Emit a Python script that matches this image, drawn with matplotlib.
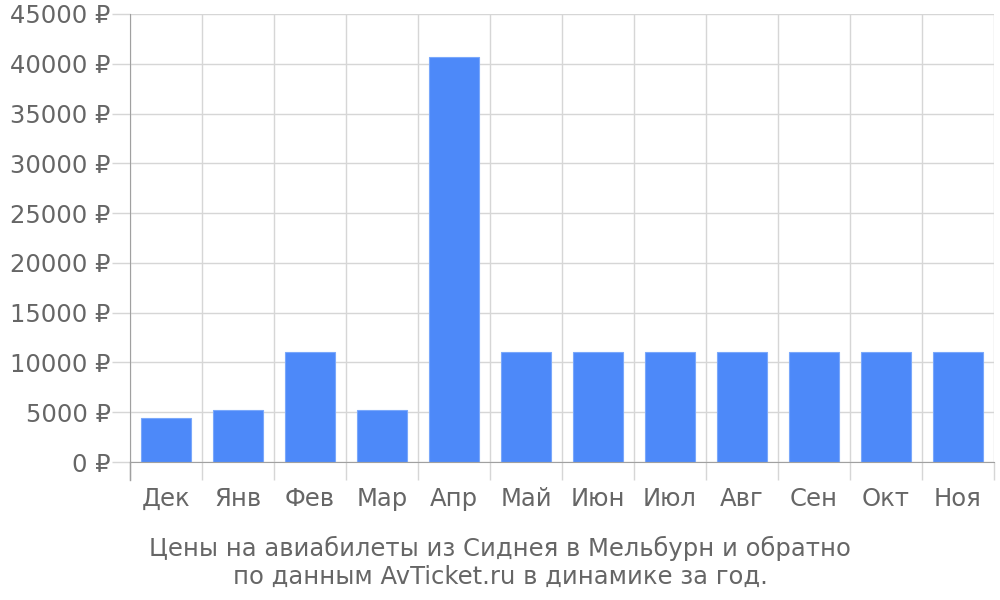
import numpy as np
import matplotlib.pyplot as plt
from matplotlib.ticker import FuncFormatter, MultipleLocator

months = ['Дек', 'Янв', 'Фев', 'Мар', 'Апр', 'Май', 'Июн', 'Июл', 'Авг', 'Сен', 'Окт', 'Ноя']
prices = [4420, 5220, 11050, 5220, 40680, 11050, 11050, 11050, 11050, 11050, 11050, 11050]

txt = '#666666'
grid = '#d6d6d6'

plt.rcParams['font.family'] = ['DejaVu Sans']

fig = plt.figure(figsize=(10, 6), dpi=100)
ax = fig.add_axes([0.13, 0.23, 0.864, 0.7467])

x = np.arange(len(months))
ax.bar(x, prices, width=0.7, color='#4d89f9', edgecolor='#7aa8fb', linewidth=0.8, zorder=3)

ax.set_xlim(-0.5, len(months) - 0.5)
ax.set_ylim(0, 45000)
ax.yaxis.set_major_locator(MultipleLocator(5000))
ax.yaxis.set_major_formatter(FuncFormatter(lambda v, p: '%d ₽' % v))

ax.set_xticks(x)
ax.set_xticklabels(months)
ax.set_xticks(np.arange(-0.5, len(months)), minor=True)

ax.grid(axis='y', color=grid, linewidth=1, zorder=0)
ax.grid(axis='x', which='minor', color=grid, linewidth=1, zorder=0)

ax.tick_params(axis='y', length=13, color=grid, width=1, labelsize=17.5, labelcolor=txt, pad=1)
ax.tick_params(axis='x', which='major', length=0, labelsize=17.5, labelcolor=txt, pad=18)
ax.tick_params(axis='x', which='minor', length=13, color=grid, width=1)

for s in ['top', 'right']:
    ax.spines[s].set_visible(False)
ax.spines['left'].set_color('#a0a0a0')
ax.spines['bottom'].set_color('#a0a0a0')
ax.spines['bottom'].set_zorder(4)
# left spine runs down past the axis like the grid lines
ax.plot([-0.5, -0.5], [0, -1800], color='#a0a0a0', linewidth=1, clip_on=False)

fig.text(0.5, 0.063, 'Цены на авиабилеты из Сиднея в Мельбурн и обратно\nпо данным AvTicket.ru в динамике за год.',
         ha='center', va='center', fontsize=17.5, color=txt, linespacing=1.2)

fig.savefig('out.png', dpi=100)
